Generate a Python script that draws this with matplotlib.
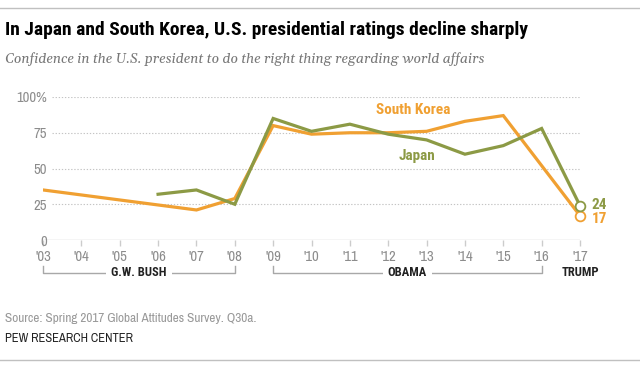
import numpy as np
import matplotlib.pyplot as plt
import matplotlib.transforms as mtransforms

# data
years_sk = [2003, 2007, 2008, 2009, 2010, 2011, 2012, 2013, 2014, 2015, 2017]
south_korea = [35, 21, 29, 80, 74, 75, 75, 76, 83, 87, 17]
years_jp = [2006, 2007, 2008, 2009, 2010, 2011, 2012, 2013, 2014, 2015, 2016, 2017]
japan = [32, 35, 25, 85, 76, 81, 74, 70, 60, 66, 78, 24]
xticks = list(range(2003, 2018))
xlabels = ["'%02d" % (y % 100) for y in xticks]
yticks = [0, 25, 50, 75, 100]
ylabels = ["0", "25", "50", "75", "100%"]
presidents = [("G.W. BUSH", 2003, 2008), ("OBAMA", 2009, 2016), ("TRUMP", 2017, 2017)]

orange = "#F0A032"
green = "#8C9A45"
narrow = ["Archivo Narrow", "DejaVu Sans"]
cond = ["Roboto Condensed", "DejaVu Sans"]

W, H = 640, 367
fig = plt.figure(figsize=(W / 100, H / 100), dpi=100)
ax = fig.add_axes([43 / W, 1 - 240 / H, (580 - 43) / W, 143 / H])
ax.set_xlim(2003, 2017)
ax.set_ylim(0, 100)
for s in ax.spines.values():
    s.set_visible(False)

for v in yticks[1:]:
    ax.axhline(v, xmin=0.017, xmax=1, color="#c4c4c4", lw=0.8, ls=(0, (1.2, 1.6)), zorder=1)
ax.axhline(0, color="#cccccc", lw=1.0, zorder=1)

ax.set_xticks(xticks)
ax.set_xticklabels(xlabels, family=narrow, fontsize=10.5, color="#8c8c8c")
ax.tick_params(axis="x", length=4, width=1, color="#cccccc", pad=3)
ax.set_yticks(yticks)
ax.set_yticklabels(ylabels, family=narrow, fontsize=10.5, color="#8c8c8c")
ax.tick_params(axis="y", length=0, pad=-3)

ax.plot(years_sk, south_korea, color=orange, lw=2.3, solid_joinstyle="miter", zorder=3)
ax.plot(years_jp, japan, color=green, lw=2.3, solid_joinstyle="miter", zorder=3)
ax.plot(years_sk[-1], south_korea[-1], "o", ms=7, mfc="white", mec=orange, mew=1.3, clip_on=False, zorder=4)
ax.plot(years_jp[-1], japan[-1], "o", ms=7, mfc="white", mec=green, mew=1.3, clip_on=False, zorder=4)

ax.text(2017.3, japan[-1] + 0.5, str(japan[-1]), color=green, fontsize=11, fontweight="bold",
        family=cond, va="center", ha="left")
ax.text(2017.3, south_korea[-1] - 2.5, str(south_korea[-1]), color=orange, fontsize=11,
        fontweight="bold", family=cond, va="center", ha="left")
ax.text(2012.65, 91, "South Korea", color=orange, fontsize=11, fontweight="bold",
        family=cond, ha="center", va="center")
ax.text(2012.75, 59, "Japan", color=green, fontsize=11, fontweight="bold",
        family=cond, ha="center", va="center")

# president brackets under the axis
trans = mtransforms.blended_transform_factory(ax.transData, ax.transAxes)
yb = -(273 - 240) / 143
ye = -(266 - 240) / 143
for name, a, b in presidents:
    mid = (a + b) / 2
    if a != b:
        ax.plot([a, a, b, b], [ye, yb, yb, ye], color="#a8a8a8", lw=1, transform=trans, clip_on=False)
    ax.text(mid, yb, name, transform=trans, ha="center", va="center", fontsize=9,
            fontweight="bold", family=cond, color="#222222",
            bbox=dict(boxstyle="square,pad=0.4", fc="white", ec="none") if a != b else None)

fig.text(5 / W, 1 - 30 / H, "In Japan and South Korea, U.S. presidential ratings decline sharply",
         fontsize=14, fontweight="bold", family=cond, va="center", ha="left")
fig.text(5 / W, 1 - 59 / H, "Confidence in the U.S. president to do the right thing regarding world affairs",
         fontsize=10, style="italic", family=["Gelasio", "DejaVu Serif"], color="#777777",
         va="center", ha="left")
fig.text(5 / W, 1 - 319 / H, "Source: Spring 2017 Global Attitudes Survey. Q30a.",
         fontsize=9.5, family=narrow, color="#999999", va="center", ha="left")
fig.text(5 / W, 1 - 339 / H, "PEW RESEARCH CENTER", fontsize=9, family=narrow,
         color="#222222", va="center", ha="left")
fig.add_artist(plt.Line2D([0, 1], [1 - 8 / H, 1 - 8 / H], color="#c0c0c0", lw=1))
fig.add_artist(plt.Line2D([0, 1], [1 - 360 / H, 1 - 360 / H], color="#c0c0c0", lw=1))

fig.savefig("out.png", dpi=100)
